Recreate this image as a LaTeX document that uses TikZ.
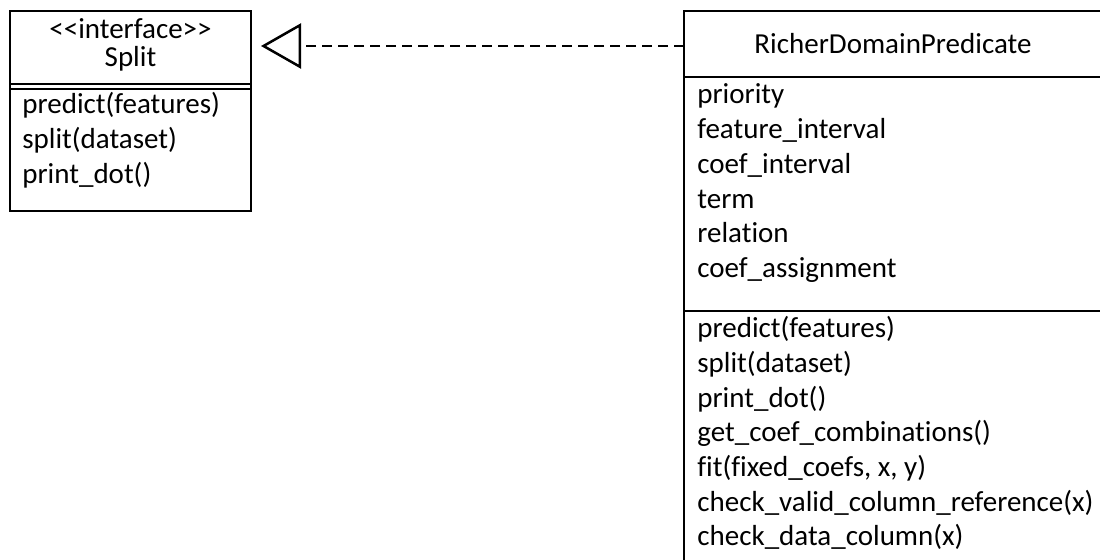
\documentclass[tikz,border=0pt]{standalone}
\usepackage{fontspec}
\setmainfont{Carlito}[Ligatures={TeXOff,CommonOff}]
\usetikzlibrary{arrows.meta}

\tikzset{
  umlline/.style={line width=1.25pt, draw=black},
  box/.style={umlline, rectangle, inner sep=0pt, outer sep=0pt},
  umltext/.style={inner sep=0pt, anchor=base west, font=\fontsize{14.5}{17.4}\selectfont},
  umltitle/.style={umltext, anchor=base},
  realize/.style={umlline, dash pattern=on 5pt off 3pt,
    -{Triangle[open, length=20pt, width=22.5pt]}, shorten >=5pt},
}

\begin{document}
\begin{tikzpicture}[x=0.5pt, y=-0.5pt]
  \useasboundingbox (0,0) rectangle (1100,560);
  \clip (0,0) rectangle (1100,560);

  % interface Split
  \node[box, anchor=north west, minimum width=120.5pt, minimum height=100pt] (split) at (10,11) {};
  \node[box, anchor=north west, minimum width=120.5pt, minimum height=36.5pt] (splithead) at (10,11) {};
  \draw[umlline] ([yshift=-2.5pt]splithead.south west) -- ([yshift=-2.5pt]splithead.south east);
  \node[umltitle] (stereo) at (130.5,39) {<<interface>>};
  \node[umltitle] (splitname) at (130.5,67) {Split};
  \node[umltext] (sm1) at (22,114.0) {predict(features)};
  \node[umltext] (sm2) at (22,148.7) {split(dataset)};
  \node[umltext] (sm3) at (22,183.4) {print\_dot()};

  % class RicherDomainPredicate
  \node[box, anchor=north west, minimum width=209pt, minimum height=290pt] (rdp) at (684,11) {};
  \node[box, anchor=north west, minimum width=209pt, minimum height=33pt] (rdphead) at (684,11) {};
  \node[box, anchor=north west, minimum width=209pt, minimum height=117pt] (rdpattrs) at (684,77) {};
  \node[umltitle] (rdpname) at (893,54) {RicherDomainPredicate};

  \node[umltext] (ra1) at (697,104.0) {priority};
  \node[umltext] (ra2) at (697,138.7) {feature\_interval};
  \node[umltext] (ra3) at (697,173.4) {coef\_interval};
  \node[umltext] (ra4) at (697,208.1) {term};
  \node[umltext] (ra5) at (697,242.8) {relation};
  \node[umltext] (ra6) at (697,277.5) {coef\_assignment};

  \node[umltext] (rm1) at (697,337.8) {predict(features)};
  \node[umltext] (rm2) at (697,372.5) {split(dataset)};
  \node[umltext] (rm3) at (697,407.2) {print\_dot()};
  \node[umltext] (rm4) at (697,441.9) {get\_coef\_combinations()};
  \node[umltext] (rm5) at (697,476.6) {fit(fixed\_coefs, x, y)};
  \node[umltext] (rm6) at (697,511.3) {check\_valid\_column\_reference(x)};
  \node[umltext] (rm7) at (697,546.0) {check\_data\_column(x)};

  % realization: RicherDomainPredicate implements Split
  \draw[realize] ([yshift=-1pt]rdphead.west) -- ([yshift=-1pt]rdphead.west -| split.east);
\end{tikzpicture}
\end{document}
